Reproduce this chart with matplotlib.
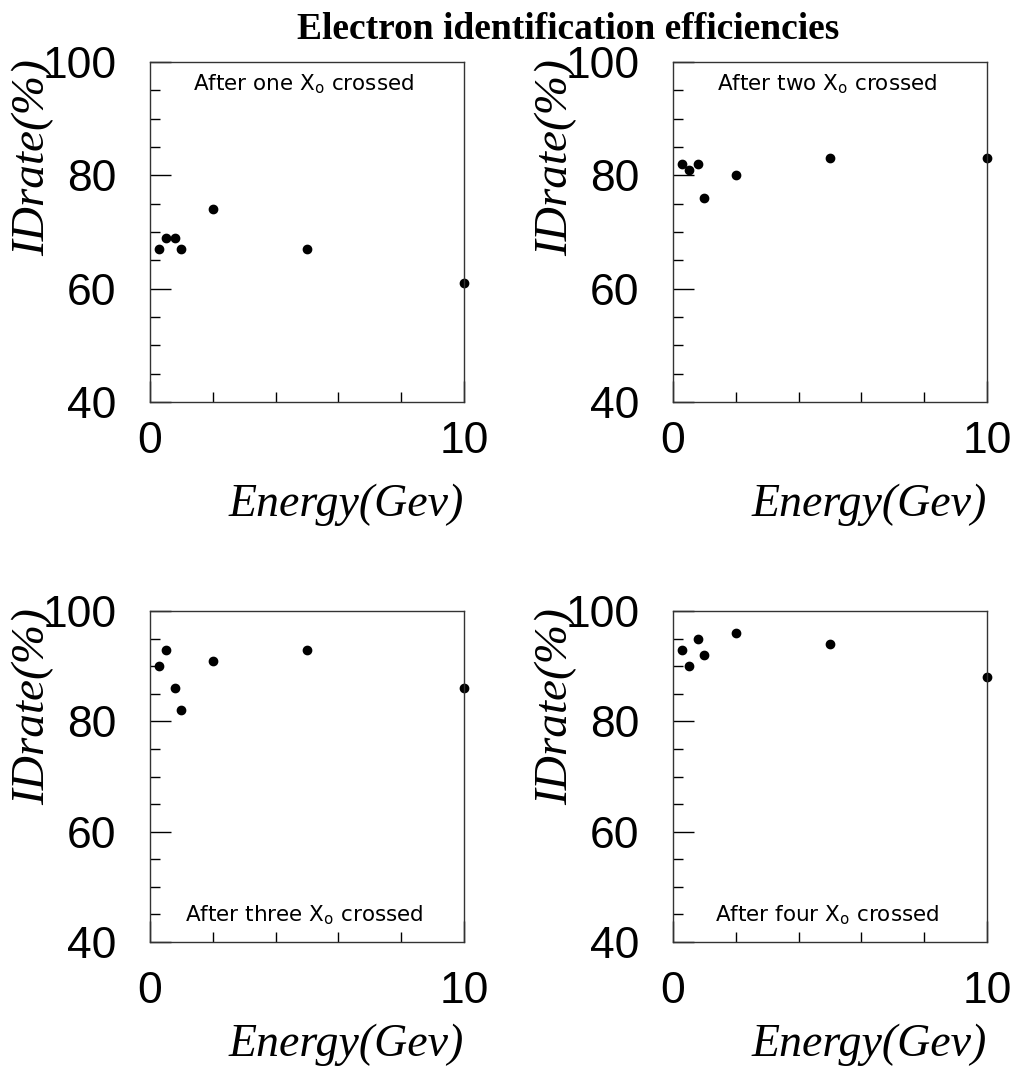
import matplotlib
matplotlib.use("Agg")
import matplotlib.pyplot as plt
from matplotlib.ticker import FixedLocator, MultipleLocator

# Datos
energy = [0.3, 0.5, 0.8, 1.0, 2.0, 5.0, 10.0]
rate_one = [67, 69, 69, 67, 74, 67, 61]
rate_two = [82, 81, 82, 76, 80, 83, 83]
rate_three = [90, 93, 86, 82, 91, 93, 86]
rate_four = [93, 90, 95, 92, 96, 94, 88]
labels = ["one", "two", "three", "four"]
rates = [rate_one, rate_two, rate_three, rate_four]

W, H = 1020, 1075
fig = plt.figure(figsize=(W / 100, H / 100), dpi=100)

# cajas de los paneles en pixeles: izquierda, arriba, derecha, abajo
boxes = [(150, 62, 464, 402), (673, 62, 987, 402),
         (150, 611, 464, 942), (673, 611, 987, 942)]
xpad = [14, 14, 21, 21]

for i, (l, t, r, b) in enumerate(boxes):
    ax = fig.add_axes([l / W, 1 - b / H, (r - l) / W, (b - t) / H])
    ax.plot(energy, rates[i], 'o', color='black', markersize=6, clip_on=False)
    ax.set_xlim(0, 10)
    ax.set_ylim(40, 100)
    ax.xaxis.set_major_locator(FixedLocator([0, 10]))
    ax.xaxis.set_minor_locator(MultipleLocator(2))
    ax.yaxis.set_major_locator(MultipleLocator(20))
    ax.yaxis.set_minor_locator(MultipleLocator(5))
    ax.tick_params(which='both', direction='in', top=False, right=False, width=1)
    ax.tick_params(which='major', length=15)
    ax.tick_params(which='minor', length=7)
    ax.tick_params(axis='x', which='major', pad=xpad[i])
    ax.tick_params(axis='y', which='major', pad=24)
    for lab in ax.get_xticklabels() + ax.get_yticklabels():
        lab.set_fontfamily('Liberation Sans')
        lab.set_fontsize(32)
    for s in ax.spines.values():
        s.set_linewidth(1)
        s.set_color('#333333')

    txt = "After " + labels[i] + r" X$_{\mathrm{o}}$ crossed"
    ty = 0.935 if i < 2 else 0.08
    ax.text(0.49, ty, txt, transform=ax.transAxes, ha='center', va='center',
            fontsize=15.5, fontfamily='DejaVu Sans')

    fig.text(r / W, 1 - (b + 114) / H, "Energy(Gev)", ha='right',
             va='baseline', fontsize=33, fontfamily='Liberation Serif',
             style='italic')
    fig.text((l - 117) / W, 1 - (t - 3) / H, "IDrate(%)", rotation=90,
             ha='center', va='top', fontsize=34, fontfamily='Liberation Serif',
             style='italic')

fig.text(568 / W, 1 - 39 / H, "Electron identification efficiencies",
         ha='center', va='baseline', fontsize=27, fontweight='bold',
         fontfamily='Liberation Serif')

fig.savefig("out.png", dpi=100)
